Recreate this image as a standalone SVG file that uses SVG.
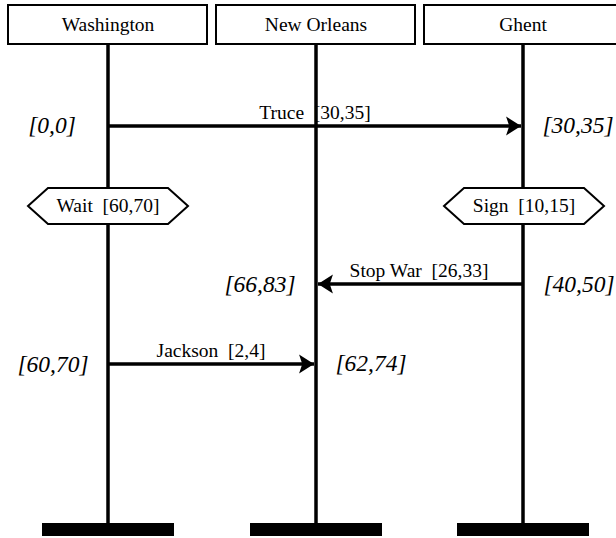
<svg xmlns="http://www.w3.org/2000/svg" width="616" height="538" viewBox="0 0 616 538">
<defs>
<style>
.box{fill:#fff;stroke:#000;stroke-width:2}
.life{stroke:#000;stroke-width:3.5;fill:none}
.bar{fill:#000}
.msg{stroke:#000;stroke-width:3.5;fill:none}
.hex{fill:#fff;stroke:#000;stroke-width:2}
.lbl{font-family:"Liberation Serif","Times New Roman",serif;font-size:19.5px;fill:#000;text-anchor:middle;white-space:pre}
.time{font-family:"Liberation Serif","Times New Roman",serif;font-size:23.5px;font-style:italic;fill:#000;text-anchor:middle}
</style>
<marker id="ah" markerUnits="userSpaceOnUse" markerWidth="16" markerHeight="20" viewBox="-14 -9 15 18" refX="0" refY="0" orient="auto">
<path d="M0,0 L-14,-9 L-11,0 L-14,9 Z" fill="#000"/>
</marker>
</defs>
<rect width="616" height="538" fill="#fff"/>
<g id="washington">
<rect class="box" x="8" y="5" width="199" height="39"/>
<text class="lbl" x="108" y="31">Washington</text>
<line class="life" x1="108" y1="44" x2="108" y2="524"/>
<rect class="bar" x="42" y="523" width="132" height="13"/>
</g>
<g id="new-orleans">
<rect class="box" x="216" y="5" width="199" height="39"/>
<text class="lbl" x="316" y="31">New Orleans</text>
<line class="life" x1="316" y1="44" x2="316" y2="524"/>
<rect class="bar" x="250" y="523" width="132" height="13"/>
</g>
<g id="ghent">
<rect class="box" x="424" y="5" width="199" height="39"/>
<text class="lbl" x="523" y="31">Ghent</text>
<line class="life" x1="523" y1="44" x2="523" y2="524"/>
<rect class="bar" x="457" y="523" width="132" height="13"/>
</g>
<g id="wait">
<polygon class="hex" points="28,206 48,188 168,188 188,206 168,224 48,224"/>
<text class="lbl" x="108" y="212">Wait  [60,70]</text>
</g>
<g id="sign">
<polygon class="hex" points="444,206 464,188 584,188 604,206 584,224 464,224"/>
<text class="lbl" x="524" y="212">Sign  [10,15]</text>
</g>
<g id="connectors">
<line class="msg" x1="108" y1="126" x2="521" y2="126" marker-end="url(#ah)"/>
<line class="msg" x1="523" y1="284" x2="318" y2="284" marker-end="url(#ah)"/>
<line class="msg" x1="108" y1="364" x2="314" y2="364" marker-end="url(#ah)"/>
</g>
<g id="labels">
<text class="lbl" x="315" y="119">Truce  [30,35]</text>
<text class="lbl" x="419" y="277">Stop War  [26,33]</text>
<text class="lbl" x="211" y="357">Jackson  [2,4]</text>
<text class="time" x="52" y="133">[0,0]</text>
<text class="time" x="578" y="133">[30,35]</text>
<text class="time" x="260" y="292">[66,83]</text>
<text class="time" x="579" y="292">[40,50]</text>
<text class="time" x="53" y="372">[60,70]</text>
<text class="time" x="371" y="371">[62,74]</text>
</g>
</svg>
